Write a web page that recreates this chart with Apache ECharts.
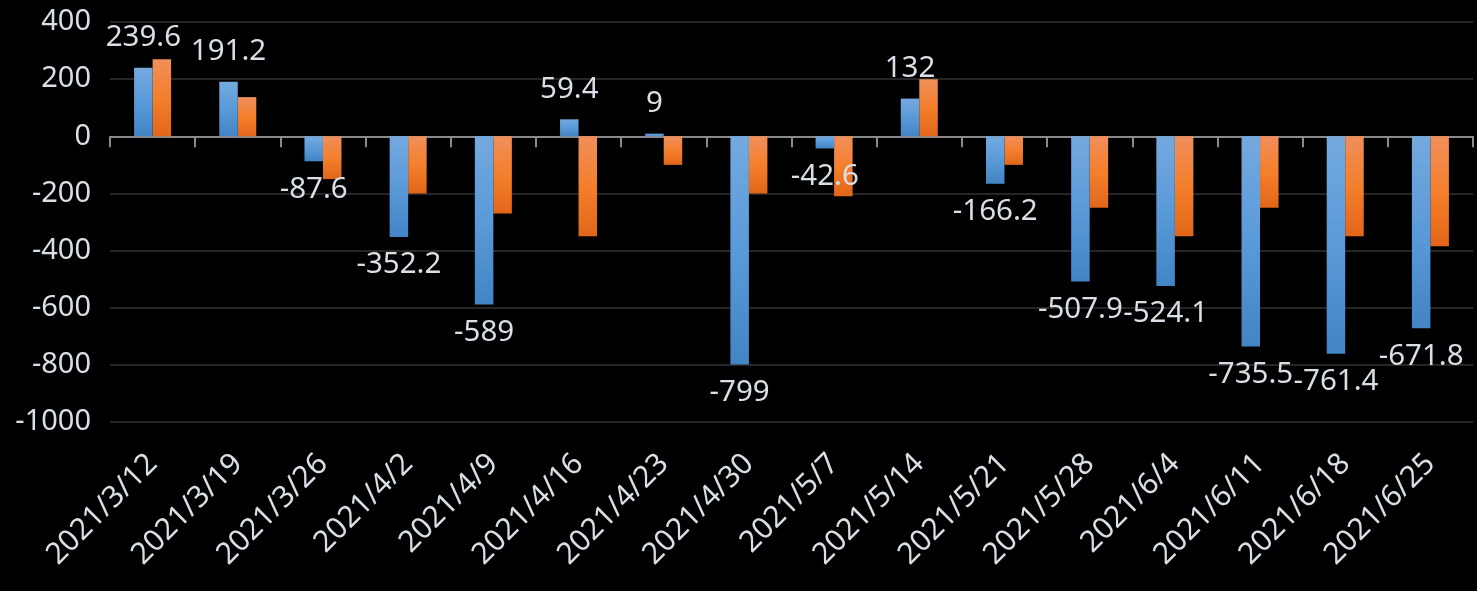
<!DOCTYPE html>
<html>
<head>
<meta charset="utf-8">
<script src="https://cdn.jsdelivr.net/npm/echarts@6/dist/echarts.min.js"></script>
<style>
html,body{margin:0;padding:0;background:#000;}
#c{width:1477px;height:591px;}
</style>
</head>
<body>
<div id="c"></div>
<script>
const categories = ['2021/3/12','2021/3/19','2021/3/26','2021/4/2','2021/4/9','2021/4/16','2021/4/23','2021/4/30','2021/5/7','2021/5/14','2021/5/21','2021/5/28','2021/6/4','2021/6/11','2021/6/18','2021/6/25'];
const seriesBlue = [239.6, 191.2, -87.6, -352.2, -589, 59.4, 9, -799, -42.6, 132, -166.2, -507.9, -524.1, -735.5, -761.4, -671.8];
const seriesOrange = [270, 137, -150, -200, -270, -350, -100, -200, -210, 200, -100, -250, -350, -250, -350, -385];
const yMin = -1000, yMax = 400, yStep = 200;

const FONT = 'Noto Sans';
const TXT = '#d9dfe6';

const blueGrad = {type:'linear', x:0, y:0, x2:0, y2:1, colorStops:[
  {offset:0, color:'#74a9df'}, {offset:0.5, color:'#5a9ad9'}, {offset:1, color:'#4284c4'}]};
const orangeGrad = {type:'linear', x:0, y:0, x2:0, y2:1, colorStops:[
  {offset:0, color:'#f08f5c'}, {offset:0.5, color:'#f47f2c'}, {offset:1, color:'#e2661a'}]};

const chart = echarts.init(document.getElementById('c'), null, {renderer:'canvas'});
const gridBox = {left:110, right:4, top:22, bottom:169, containLabel:false, outerBoundsMode:'none'};

chart.setOption({
  backgroundColor:'#000',
  animation:false,
  grid:[Object.assign({}, gridBox), Object.assign({}, gridBox)],
  xAxis:[
    {type:'category', gridIndex:0, data:categories,
     axisLine:{show:true, onZero:true, lineStyle:{color:'#8a8a8a', width:2}},
     axisTick:{show:true, length:11, lineStyle:{color:'#8a8a8a', width:2}},
     axisLabel:{show:false}, splitLine:{show:false}},
    {type:'category', gridIndex:1, data:categories, position:'bottom',
     axisLine:{show:false, onZero:false}, axisTick:{show:false}, splitLine:{show:false},
     axisLabel:{show:true, rotate:45, margin:37, interval:0, color:TXT, fontFamily:FONT, fontSize:30}}
  ],
  yAxis:[
    {type:'value', gridIndex:0, min:yMin, max:yMax, interval:yStep,
     axisLine:{show:false}, axisTick:{show:false},
     splitLine:{show:true, lineStyle:{color:'#262626', width:2}},
     axisLabel:{margin:19, color:TXT, fontFamily:FONT, fontSize:29, formatter: v => String(v)}},
    {type:'value', gridIndex:1, min:yMin, max:yMax, interval:yStep, show:false,
     splitLine:{show:false}}
  ],
  series:[
    {type:'bar', xAxisIndex:0, yAxisIndex:0, barWidth:18.5, barGap:'0%',
     itemStyle:{color:blueGrad},
     data: seriesBlue.map(v => ({value:v, label:{position: v >= 0 ? 'top' : 'bottom', distance: v >= 0 ? 15 : 13}})),
     label:{show:true, color:TXT, fontFamily:FONT, fontSize:29.5},
     z:3},
    {type:'bar', xAxisIndex:0, yAxisIndex:0, barWidth:18.5, barGap:'0%',
     itemStyle:{color:orangeGrad},
     data: seriesOrange, label:{show:false}, z:2}
  ]
});
</script>
</body>
</html>
